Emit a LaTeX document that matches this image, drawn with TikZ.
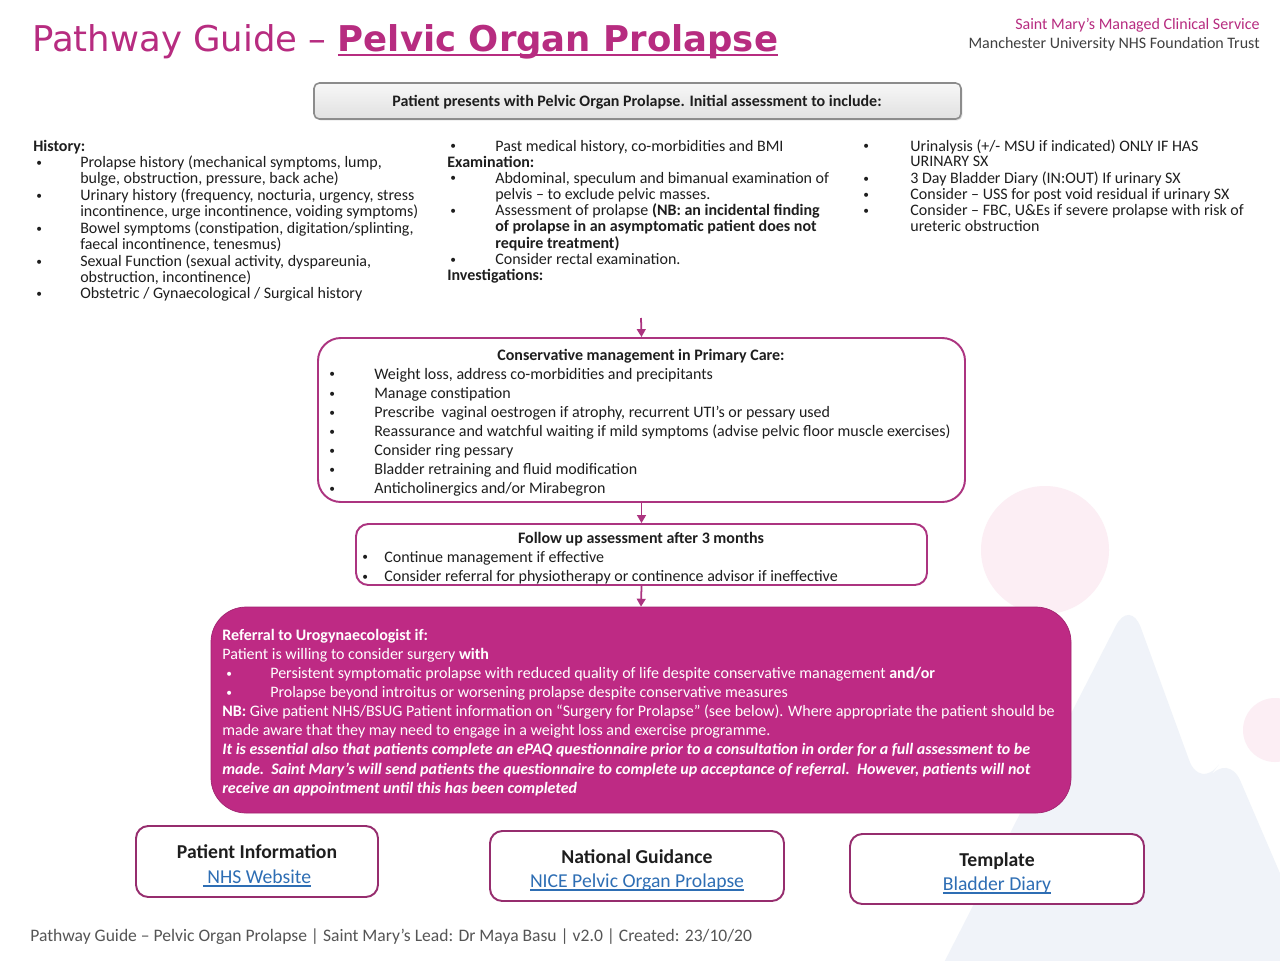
\documentclass[tikz,border=0pt]{standalone}
\usepackage{fontspec}
\setmainfont{Carlito}
\newfontfamily\titlefont{DejaVu Sans}
\usepackage{array}
\usetikzlibrary{arrows.meta,fit,shadows}

\definecolor{guidepink}{RGB}{183,44,128}
\definecolor{referpink}{RGB}{190,42,132}
\definecolor{edgepink}{RGB}{172,52,128}
\definecolor{linkedge}{RGB}{150,45,110}
\definecolor{linkblue}{RGB}{46,110,180}
\definecolor{bodytext}{RGB}{30,30,30}
\definecolor{footgray}{RGB}{85,85,85}
\definecolor{bgpink}{RGB}{252,238,244}
\definecolor{bgblue}{RGB}{240,243,249}

\newcommand{\colfont}{\fontsize{9.1}{9.1}\selectfont}
\newcommand{\flowfont}{\fontsize{9.1}{10.9}\selectfont}
\newcommand{\linkfont}{\fontsize{11.2}{13}\selectfont}
\newcommand{\bul}{\hspace{1.7pt}\raisebox{0.6pt}{\fontsize{6.5}{6.5}\selectfont\textbullet}}
% underline with given depth and thickness
\newcommand{\ruleline}[3]{\setbox0\hbox{#3}\rlap{\rule[-#1]{\wd0}{#2}}\box0}

\tikzset{
  coltext/.style={anchor=base west,inner sep=0pt,text=bodytext,font=\colfont},
  flowtext/.style={anchor=base west,inner sep=0pt,text=bodytext,font=\flowfont},
  flowhead/.style={anchor=base,inner sep=0pt,text=bodytext,font=\flowfont\bfseries},
  flowbox/.style={draw=edgepink,line width=1.1pt,fill=white,inner sep=0pt,rounded corners=13pt},
  referbox/.style={fill=referpink,draw=referpink!85!black,line width=0.4pt,inner sep=0pt,rounded corners=20pt},
  startbox/.style={draw=black!45,line width=0.9pt,top color=black!3,bottom color=black!12,inner sep=0pt,
    rounded corners=3pt,drop shadow={opacity=0.3,shadow xshift=0.8pt,shadow yshift=-0.8pt}},
  linkbox/.style={draw=linkedge,line width=1.1pt,fill=white,inner sep=0pt,rounded corners=7pt},
  linkhead/.style={anchor=base,inner sep=0pt,text=bodytext,font=\linkfont\bfseries},
  linktext/.style={anchor=base,inner sep=0pt,text=linkblue,font=\linkfont},
  flowarrow/.style={draw=edgepink,line width=1pt,-{Triangle[length=4.5pt,width=5pt]}},
}

\begin{document}
\begin{tikzpicture}[x=0.02cm,y=-0.02cm]
  \fill[white] (0,0) rectangle (1280,960);
  \useasboundingbox (0,0) rectangle (1280,960);
  % Background shapes
  \fill[bgpink] (1045,550) circle (64);
  \fill[bgpink] (1275,730) circle (32);
  \fill[bgblue,rounded corners=18pt] (930,990) -- (1130,598) -- (1200,790) -- (1228,752) -- (1330,990) -- cycle;

  % Header
  \node[anchor=base west,inner sep=0pt,text=guidepink,font=\titlefont\fontsize{20.2}{24}\selectfont] (title) at (32,51)
    {Pathway Guide – \textbf{\ruleline{3pt}{1.4pt}{Pelvic Organ Prolapse}}};
  \node[anchor=base east,inner sep=0pt,text=guidepink,font=\fontsize{9.1}{10}\selectfont] (service) at (1260,30)
    {Saint Mary’s Managed Clinical Service};
  \node[anchor=base east,inner sep=0pt,text=black!75,font=\fontsize{9.1}{10}\selectfont] (trust) at (1260,48)
    {Manchester University NHS Foundation Trust};

  % Initial assessment
  \node[startbox,fit={(314,83) (961,119)}] (start) {};
  \node[anchor=base,inner sep=0pt,font=\colfont\bfseries,text=bodytext] (starttext) at (637,106)
    {Patient presents with Pelvic Organ Prolapse. Initial assessment to include:};

  \node[coltext] (history) at (33,151) {\begin{tabular}[t]{@{}p{26.7pt}@{}l@{}}
    \multicolumn{2}{@{}l@{}}{\textbf{History:}}\\
    \bul & Prolapse history (mechanical symptoms, lump,\\
         & bulge, obstruction, pressure, back ache)\\
    \bul & Urinary history (frequency, nocturia, urgency, stress\\
         & incontinence, urge incontinence, voiding symptoms)\\
    \bul & Bowel symptoms (constipation, digitation/splinting,\\
         & faecal incontinence, tenesmus)\\
    \bul & Sexual Function (sexual activity, dyspareunia,\\
         & obstruction, incontinence)\\
    \bul & Obstetric / Gynaecological / Surgical history
  \end{tabular}};

  \node[coltext] (exam) at (447,151) {\begin{tabular}[t]{@{}p{27.3pt}@{}l@{}}
    \bul & Past medical history, co-morbidities and BMI\\
    \multicolumn{2}{@{}l@{}}{\textbf{Examination:}}\\
    \bul & Abdominal, speculum and bimanual examination of\\
         & pelvis – to exclude pelvic masses.\\
    \bul & Assessment of prolapse \textbf{(NB: an incidental finding}\\
         & \textbf{of prolapse in an asymptomatic patient does not}\\
         & \textbf{require treatment)}\\
    \bul & Consider rectal examination.\\
    \multicolumn{2}{@{}l@{}}{\textbf{Investigations:}}
  \end{tabular}};

  \node[coltext] (tests) at (860,151) {\begin{tabular}[t]{@{}p{28.5pt}@{}l@{}}
    \bul & Urinalysis (+/- MSU if indicated) ONLY IF HAS\\
         & URINARY SX\\
    \bul & 3 Day Bladder Diary (IN:OUT) If urinary SX\\
    \bul & Consider – USS for post void residual if urinary SX\\
    \bul & Consider – FBC, U\&Es if severe prolapse with risk of\\
         & ureteric obstruction
  \end{tabular}};

  % Conservative management
  \node[flowbox,fit={(318,338) (965,502)}] (cons) {};
  \node[flowhead] (conshead) at (641,360) {Conservative management in Primary Care:};
  \node[flowtext] (conslist) at (326,379) {\begin{tabular}[t]{@{}p{27.3pt}@{}l@{}}
    \bul & Weight loss, address co-morbidities and precipitants\\
    \bul & Manage constipation\\
    \bul & Prescribe\ \ vaginal oestrogen if atrophy, recurrent UTI’s or pessary used\\
    \bul & Reassurance and watchful waiting if mild symptoms (advise pelvic floor muscle exercises)\\
    \bul & Consider ring pessary\\
    \bul & Bladder retraining and fluid modification\\
    \bul & Anticholinergics and/or Mirabegron
  \end{tabular}};

  % Follow up
  \node[flowbox,rounded corners=7pt,fit={(356,524) (927,585)}] (follow) {};
  \node[flowhead] (followhead) at (641,543) {Follow up assessment after 3 months};
  \node[flowtext] (followlist) at (359,562) {\begin{tabular}[t]{@{}p{14.2pt}@{}l@{}}
    \bul & Continue management if effective\\
    \bul & Consider referral for physiotherapy or continence advisor if ineffective
  \end{tabular}};

  % Referral
  \node[referbox,fit={(211,607) (1071,813)}] (refer) {};
  \node[flowtext,text=white] (referlist) at (222,640) {\begin{tabular}[t]{@{}p{27.3pt}@{}l@{}}
    \multicolumn{2}{@{}l@{}}{\textbf{Referral to Urogynaecologist if:}}\\
    \multicolumn{2}{@{}l@{}}{Patient is willing to consider surgery \textbf{with}}\\
    \hspace{0.6pt}\bul & Persistent symptomatic prolapse with reduced quality of life despite conservative management \textbf{and/or}\\
    \hspace{0.6pt}\bul & Prolapse beyond introitus or worsening prolapse despite conservative measures\\
    \multicolumn{2}{@{}l@{}}{\textbf{NB:} Give patient NHS/BSUG Patient information on “Surgery for Prolapse” (see below). Where appropriate the patient should be}\\
    \multicolumn{2}{@{}l@{}}{made aware that they may need to engage in a weight loss and exercise programme.}\\
    \multicolumn{2}{@{}l@{}}{\textbf{\textit{It is essential also that patients complete an ePAQ questionnaire prior to a consultation in order for a full assessment to be}}}\\
    \multicolumn{2}{@{}l@{}}{\textbf{\textit{made.\ \ Saint Mary’s will send patients the questionnaire to complete up acceptance of referral.\ \ However, patients will not}}}\\
    \multicolumn{2}{@{}l@{}}{\textbf{\textit{receive an appointment until this has been completed}}}
  \end{tabular}};

  % Arrows
  \coordinate (assessend) at (641,318);
  \draw[flowarrow] (assessend) -- (cons.north);
  \draw[flowarrow] (cons.south) -- (follow.north);
  \draw[flowarrow] (follow.south) -- (refer.north);

  % Links
  \node[linkbox,fit={(136,826) (378,897)}] (patinfo) {};
  \node[linkhead] (patinfohead) at (257,858) {Patient Information};
  \node[linktext] (patinfolink) at (257,883) {\ruleline{2pt}{0.6pt}{~NHS Website}};
  \node[linkbox,fit={(490,831) (784,901)}] (guidance) {};
  \node[linkhead] (guidancehead) at (637,863) {National Guidance};
  \node[linktext] (guidancelink) at (637,887) {\ruleline{2pt}{0.6pt}{NICE Pelvic Organ Prolapse}};
  \node[linkbox,fit={(850,834) (1144,904)}] (template) {};
  \node[linkhead] (templatehead) at (997,866) {Template};
  \node[linktext] (templatelink) at (997,890) {\ruleline{2pt}{0.6pt}{Bladder Diary}};

  % Footer
  \node[anchor=base west,inner sep=0pt,text=footgray,font=\fontsize{10}{11}\selectfont] (footer) at (30,941)
    {Pathway Guide – Pelvic Organ Prolapse | Saint Mary’s Lead: Dr Maya Basu | v2.0 | Created: 23/10/20};
\end{tikzpicture}
\end{document}
